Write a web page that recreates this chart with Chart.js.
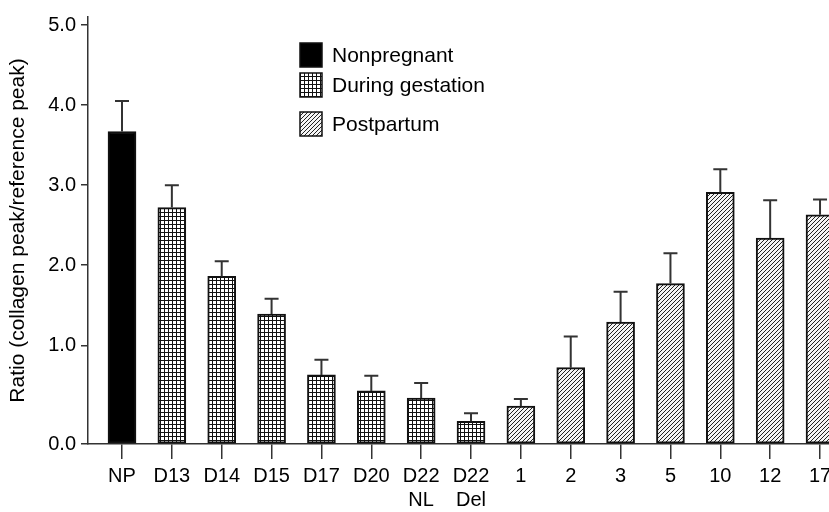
<!DOCTYPE html>
<html>
<head>
<meta charset="utf-8">
<script src="https://cdn.jsdelivr.net/npm/chart.js@4.4.0/dist/chart.umd.min.js"></script>
<style>
  html, body { margin: 0; padding: 0; background: #fff; overflow: hidden; }
</style>
</head>
<body>
<canvas id="ratioChart" width="829" height="512"></canvas>
<script>
// collagen peak / reference peak, mean and upward error
const categories = ['NP', 'D13', 'D14', 'D15', 'D17', 'D20', ['D22', 'NL'], ['D22', 'Del'],
                    '1', '2', '3', '5', '10', '12', '17'];
const groupOf = [0, 1, 1, 1, 1, 1, 1, 1, 2, 2, 2, 2, 2, 2, 2];
const ratios = [3.67, 2.72, 1.86, 1.39, 0.63, 0.43, 0.34, 0.05, 0.24, 0.72, 1.29, 1.77, 2.91, 2.34, 2.63];
const errors = [0.38, 0.28, 0.19, 0.19, 0.19, 0.19, 0.19, 0.10, 0.09, 0.39, 0.38, 0.38, 0.29, 0.47, 0.19];
const groupNames = ['Nonpregnant', 'During gestation', 'Postpartum'];
const yTicks = [1, 2, 3, 4, 5];
// bottom of the axis is labelled 0.0 in the original (its origin sits a bit low)
const yMin = -0.233;
const yMax = 5.1;

Chart.defaults.font.family = '"Liberation Sans", Arial, sans-serif';
Chart.defaults.color = '#000';

const ctx = document.getElementById('ratioChart').getContext('2d');

function gridPattern() {
    const c = document.createElement('canvas');
    c.width = 4; c.height = 4;
    const g = c.getContext('2d');
    g.fillStyle = '#fff';
    g.fillRect(0, 0, 4, 4);
    g.fillStyle = '#111';
    g.fillRect(0, 0, 4, 1);
    g.fillRect(0, 0, 1, 4);
    return ctx.createPattern(c, 'repeat');
}

function hatchPattern() {
    const c = document.createElement('canvas');
    c.width = 4; c.height = 4;
    const g = c.getContext('2d');
    g.fillStyle = '#f4f4f4';
    g.fillRect(0, 0, 4, 4);
    g.strokeStyle = '#222';
    g.lineWidth = 1;
    g.beginPath();
    g.moveTo(-1, 5); g.lineTo(5, -1);
    g.moveTo(-1, 1); g.lineTo(1, -1);
    g.moveTo(3, 5); g.lineTo(5, 3);
    g.stroke();
    return ctx.createPattern(c, 'repeat');
}

const fills = ['#000', gridPattern(), hatchPattern()];

const datasets = groupNames.map((name, k) => ({
    label: name,
    data: ratios.map((v, i) => ({ x: i, y: v })).filter((p, i) => groupOf[i] === k),
    backgroundColor: fills[k],
    borderColor: '#111',
    borderWidth: 2,
    borderSkipped: false,
    base: yMin,
    barThickness: 28,
    grouped: false
}));

// upward error bars with caps
const errorBars = {
    id: 'errorBars',
    afterDatasetsDraw(chart) {
        const { ctx, scales: { x, y } } = chart;
        ctx.save();
        ctx.strokeStyle = '#333';
        ctx.lineWidth = 2;
        ratios.forEach((v, i) => {
            const px = x.getPixelForValue(i);
            const top = y.getPixelForValue(v + errors[i]);
            ctx.beginPath();
            ctx.moveTo(px, y.getPixelForValue(v));
            ctx.lineTo(px, top);
            ctx.moveTo(px - 7, top);
            ctx.lineTo(px + 7, top);
            ctx.stroke();
        });
        ctx.restore();
    }
};

// legend with filled boxes, stacked inside the plot
const boxLegend = {
    id: 'boxLegend',
    afterDraw(chart) {
        const ctx = chart.ctx;
        const x0 = chart.chartArea.left + 212;
        const rows = [43, 73, 112];
        chart.data.datasets.forEach((ds, k) => {
            ctx.fillStyle = ds.backgroundColor;
            ctx.fillRect(x0, rows[k], 22, 24);
            ctx.strokeStyle = '#111';
            ctx.lineWidth = 1.5;
            ctx.strokeRect(x0, rows[k], 22, 24);
            ctx.fillStyle = '#000';
            ctx.font = '21px "Liberation Sans", Arial, sans-serif';
            ctx.textBaseline = 'middle';
            ctx.fillText(ds.label, x0 + 32, rows[k] + 13);
        });
    }
};

new Chart(ctx, {
    type: 'bar',
    data: { datasets: datasets },
    plugins: [errorBars, boxLegend],
    options: {
        responsive: false,
        animation: false,
        layout: { padding: { top: 12, right: 0, left: 0, bottom: 0 } },
        plugins: { legend: { display: false }, tooltip: { enabled: false } },
        scales: {
            x: {
                type: 'linear',
                offset: false,
                min: -0.682,
                max: 14.18,
                afterBuildTicks: (scale) => { scale.ticks = categories.map((c, i) => ({ value: i })); },
                afterFit: (scale) => { scale.height = 68; scale.paddingLeft = 0; scale.paddingRight = 0; },
                ticks: {
                    autoSkip: false,
                    maxRotation: 0,
                    padding: 5,
                    font: { size: 20 },
                    callback: (v) => categories[Math.round(v)]
                },
                grid: { offset: false, drawOnChartArea: false, tickLength: 15, color: '#333', lineWidth: 1.5 },
                border: { color: '#333', width: 1.5 }
            },
            y: {
                min: yMin,
                max: yMax,
                afterBuildTicks: (scale) => { scale.ticks = [yMin, ...yTicks].map(v => ({ value: v })); },
                afterFit: (scale) => { scale.width = 88; },
                ticks: {
                    padding: 5,
                    font: { size: 20 },
                    callback: (v) => (v < 0.5 ? 0 : v).toFixed(1)
                },
                grid: { drawOnChartArea: false, tickLength: 7, color: '#333', lineWidth: 1.5 },
                border: { color: '#333', width: 1.5 },
                title: {
                    display: true,
                    text: 'Ratio (collagen peak/reference peak)',
                    font: { size: 21 },
                    padding: { top: 6, bottom: 0 }
                }
            }
        }
    }
});
</script>
</body>
</html>
